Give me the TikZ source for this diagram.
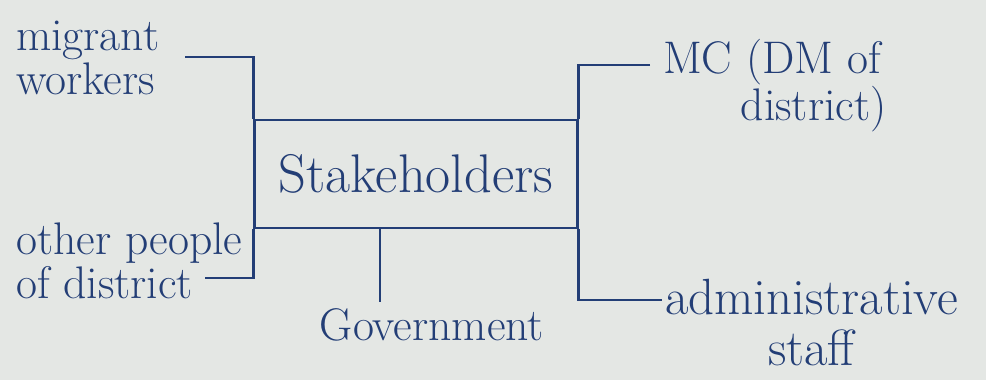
\documentclass[tikz,border=0pt]{standalone}
\usepackage{fontspec}
\definecolor{paper}{RGB}{228,231,228}
\definecolor{ink}{RGB}{35,62,118}
\begin{document}
\begin{tikzpicture}[
    x=0.02cm, y=-0.02cm,
    line width=1.2pt,
    draw=ink,
    label/.style={
        text=ink,
        font=\fontsize{26}{25}\selectfont,
        inner sep=0pt
    },
    hub/.style={
        draw=ink,
        minimum width=6.46cm,
        minimum height=2.16cm,
        text=ink,
        font=\fontsize{31}{34}\selectfont
    }
]
    \fill[paper] (0,0) rectangle (986,380);
    \useasboundingbox (0,0) rectangle (986,380);

    % --- Centre box ---
    \node[hub] (stake) at (416,174) {Stakeholders};

    % --- Labels ---
    \node[label, align=left, anchor=north west] (mw) at (15,20) {migrant\\workers};
    \node[label, align=left, anchor=north west] (mc) at (662,38) {MC (DM of\\\hspace*{1.7em}district)};
    \node[label, align=left, anchor=north west] (op) at (15,222) {other people\\of district};
    \node[label] (gov) at (432,325) {Government};
    \node[label, align=center, anchor=north west, font=\fontsize{29}{29}\selectfont] (ad) at (664,278) {administrative\\staff};

    % --- Free ends ---
    \coordinate (mwend) at (185,57);
    \coordinate (mcend) at (650,65);
    \coordinate (opend) at (205,278);
    \coordinate (govend) at (380,302);
    \coordinate (adend) at (662,300);

    % --- Connectors ---
    \draw (mwend) -| (stake.north west);
    \draw (mcend) -| (stake.north east);
    \draw (stake.south west) |- (opend);
    \draw (stake.south east) |- (adend);
    \draw (govend |- stake.south) -- (govend);
\end{tikzpicture}
\end{document}
